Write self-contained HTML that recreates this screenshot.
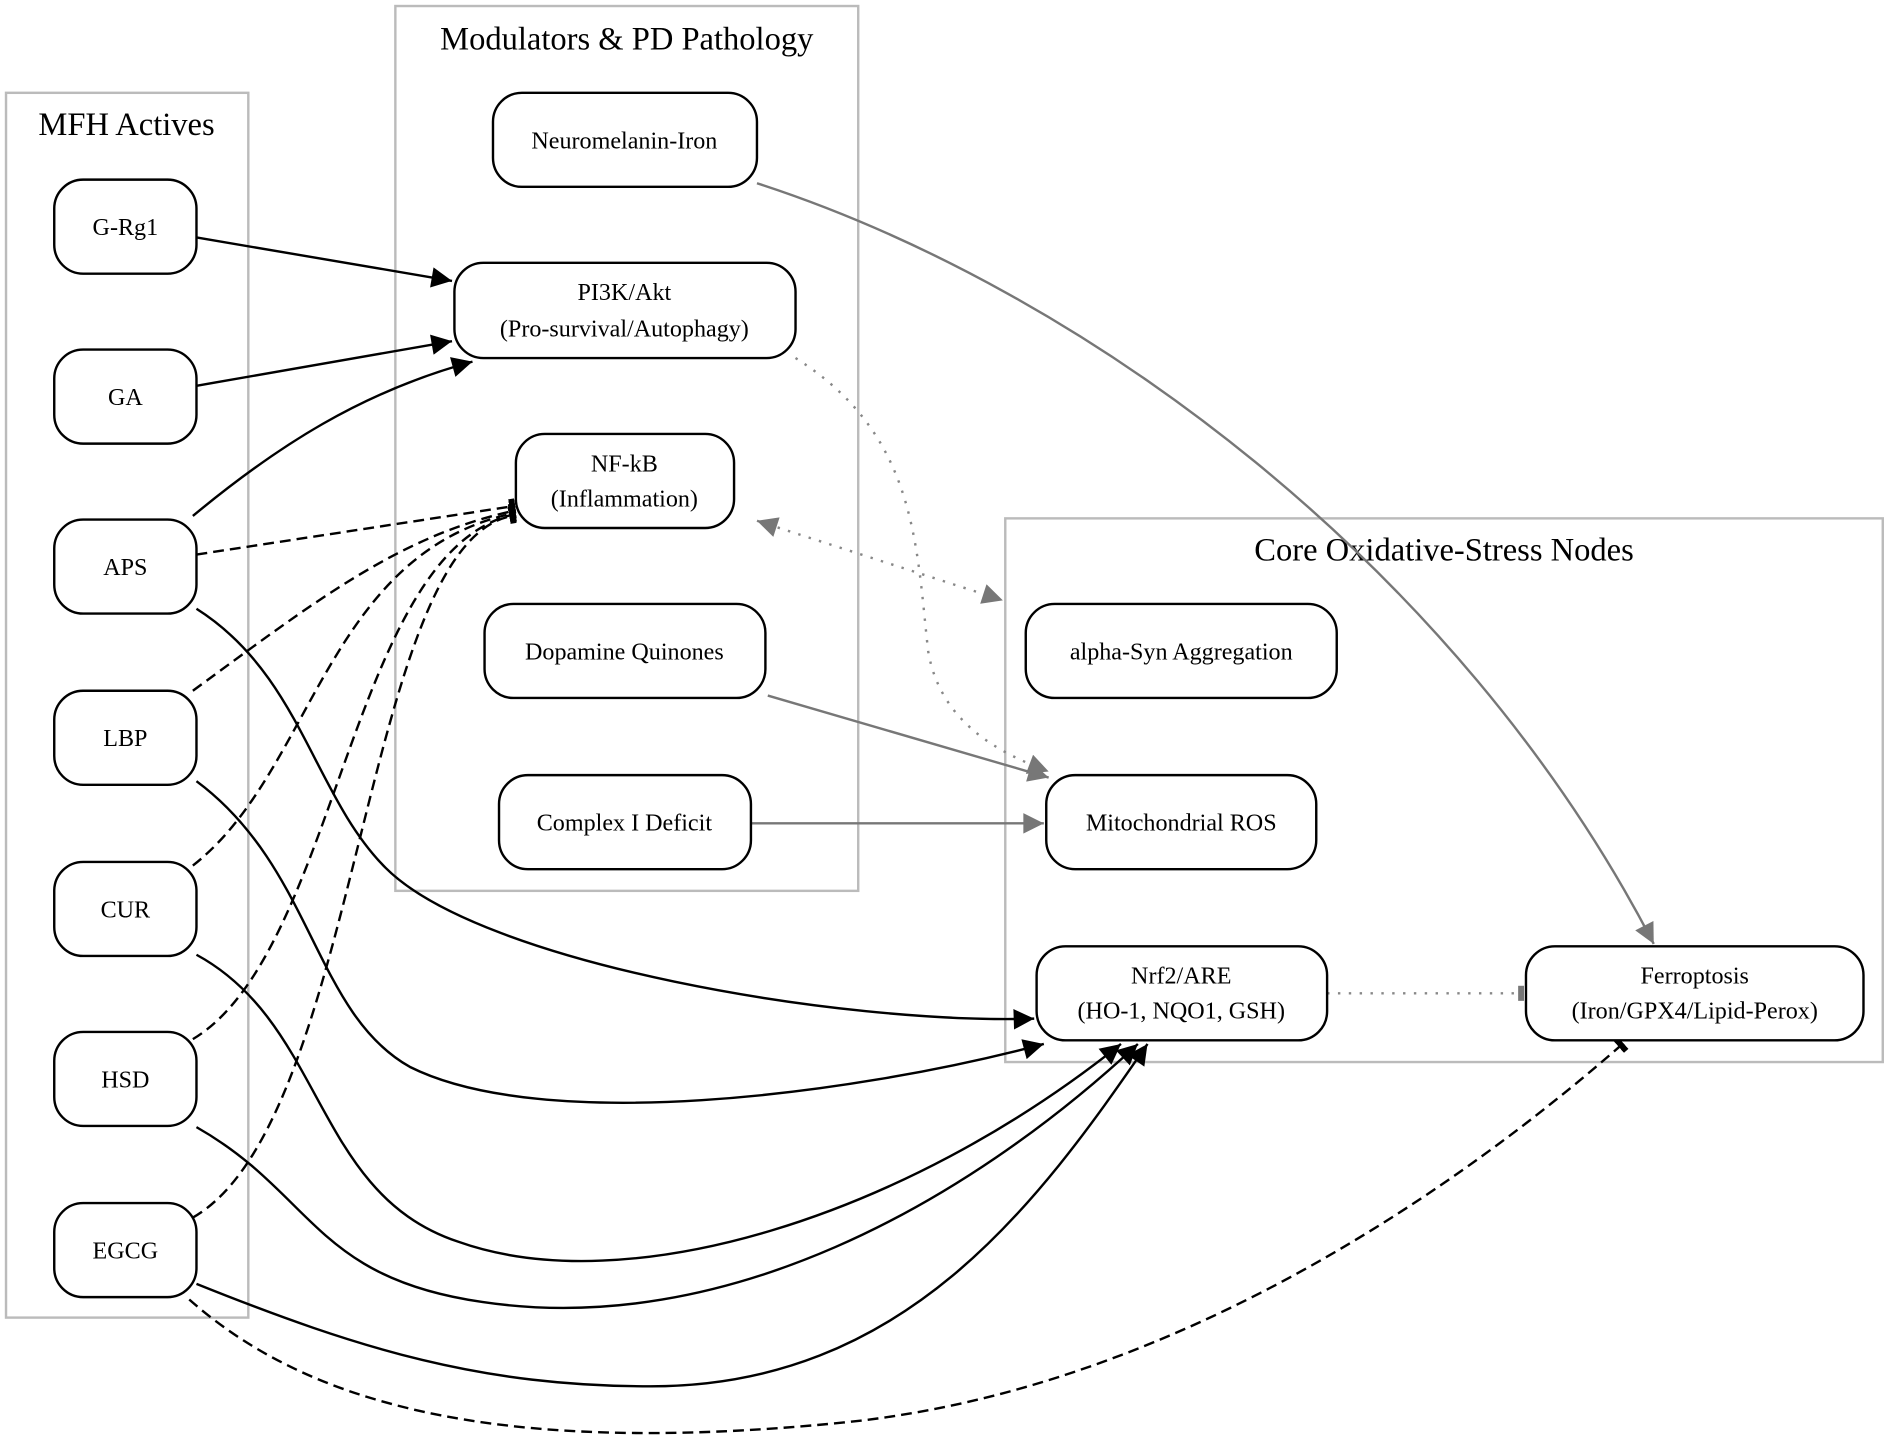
<!DOCTYPE html>
<html><head><meta charset="utf-8"><style>html,body{margin:0;padding:0;background:#fff}svg{display:block}</style></head>
<body>
<svg width="1890" height="1449" viewBox="0 0 1568 1202" preserveAspectRatio="none" xmlns="http://www.w3.org/2000/svg" font-family="Liberation Serif, serif">
<defs>
<marker id="a" viewBox="0 0 10 10" refX="10" refY="5" markerWidth="22" markerHeight="17" markerUnits="userSpaceOnUse" orient="auto"><path d="M0,0L10,5L0,10z" fill="#000"/></marker>
<marker id="g" viewBox="0 0 10 10" refX="10" refY="5" markerWidth="22" markerHeight="17" markerUnits="userSpaceOnUse" orient="auto"><path d="M0,0L10,5L0,10z" fill="#777"/></marker>
<marker id="gs" viewBox="0 0 10 10" refX="0" refY="5" markerWidth="22" markerHeight="17" markerUnits="userSpaceOnUse" orient="auto"><path d="M10,0L0,5L10,10z" fill="#777"/></marker>
<marker id="t" viewBox="0 0 4 10" refX="2" refY="5" markerWidth="5" markerHeight="24" markerUnits="userSpaceOnUse" orient="auto"><rect x="0" y="0" width="4" height="10" fill="#000"/></marker>
<marker id="tg" viewBox="0 0 4 10" refX="2" refY="5" markerWidth="5" markerHeight="22" markerUnits="userSpaceOnUse" orient="auto"><rect x="0" y="0" width="4" height="10" fill="#777"/></marker>
</defs>
<g fill="none" stroke="#bbb" stroke-width="2">
<rect x="5" y="77" width="201" height="1016"/>
<rect x="328" y="5" width="384" height="734"/>
<rect x="834" y="430" width="728" height="451"/>
</g>
<g font-size="27" text-anchor="middle" fill="#000">
<text x="105" y="112">MFH Actives</text>
<text x="520" y="41">Modulators &amp; PD Pathology</text>
<text x="1198" y="465">Core Oxidative-Stress Nodes</text>
</g>
<g fill="none" stroke-width="2">
<path d="M163,197 L375,233" stroke="#000" marker-end="url(#a)"/>
<path d="M163,320 L375,283" stroke="#000" marker-end="url(#a)"/>
<path d="M160,428 C230,370 300,325 392,300" stroke="#000" marker-end="url(#a)"/>
<g stroke="#000" stroke-dasharray="9,5">
<path d="M163,460 L425,420" marker-end="url(#t)"/>
<path d="M160,573 C260,500 330,445 425,424" marker-end="url(#t)"/>
<path d="M160,718 C260,640 270,460 425,426" marker-end="url(#t)"/>
<path d="M160,862 C280,790 290,460 425,427" marker-end="url(#t)"/>
<path d="M160,1010 C300,930 300,450 425,428" marker-end="url(#t)"/>
<path d="M157,1078 C250,1160 400,1210 700,1180 C1000,1150 1250,950 1345,867" marker-end="url(#t)"/>
</g>
<g stroke="#000">
<path d="M163,505 C250,560 260,660 320,720 C400,800 700,850 858,845" marker-end="url(#a)"/>
<path d="M163,648 C260,720 260,840 340,885 C450,940 700,910 866,866" marker-end="url(#a)"/>
<path d="M163,792 C270,850 260,990 380,1030 C520,1080 750,1010 930,866" marker-end="url(#a)"/>
<path d="M163,935 C260,990 260,1060 400,1080 C600,1110 800,1000 944,866" marker-end="url(#a)"/>
<path d="M163,1065 C300,1120 400,1150 540,1150 C750,1150 860,1000 952,866" marker-end="url(#a)"/>
</g>
<path d="M628,152 C900,240 1210,470 1372,783" stroke="#777" marker-end="url(#g)"/>
<path d="M637,577 L870,645" stroke="#777" marker-end="url(#g)"/>
<path d="M623,683 L866,683" stroke="#777" marker-end="url(#g)"/>
<g stroke="#888" stroke-dasharray="2,7">
<path d="M660,297 C760,360 760,450 770,540 C780,600 830,625 870,640" marker-end="url(#g)"/>
<path d="M628,432 L832,498" marker-start="url(#gs)" marker-end="url(#g)"/>
<path d="M1101,824 L1262,824" marker-end="url(#tg)"/>
</g>
</g>
<g fill="#fff" stroke="#000" stroke-width="2">
<rect x="45" y="149" width="118" height="78" rx="24"/>
<rect x="45" y="290" width="118" height="78" rx="24"/>
<rect x="45" y="431" width="118" height="78" rx="24"/>
<rect x="45" y="573" width="118" height="78" rx="24"/>
<rect x="45" y="715" width="118" height="78" rx="24"/>
<rect x="45" y="856" width="118" height="78" rx="24"/>
<rect x="45" y="998" width="118" height="78" rx="24"/>
<rect x="409" y="77" width="219" height="78" rx="24"/>
<rect x="377" y="218" width="283" height="79" rx="24"/>
<rect x="428" y="360" width="181" height="78" rx="24"/>
<rect x="402" y="501" width="233" height="78" rx="24"/>
<rect x="414" y="643" width="209" height="78" rx="24"/>
<rect x="851" y="501" width="258" height="78" rx="24"/>
<rect x="868" y="643" width="224" height="78" rx="24"/>
<rect x="860" y="785" width="241" height="78" rx="24"/>
<rect x="1266" y="785" width="280" height="78" rx="24"/>
</g>
<g font-size="20" text-anchor="middle" fill="#000">
<text x="104" y="195">G-Rg1</text>
<text x="104" y="336">GA</text>
<text x="104" y="477">APS</text>
<text x="104" y="619">LBP</text>
<text x="104" y="761">CUR</text>
<text x="104" y="902">HSD</text>
<text x="104" y="1044">EGCG</text>
<text x="518" y="123">Neuromelanin-Iron</text>
<text x="518" y="249">PI3K/Akt</text>
<text x="518" y="279">(Pro-survival/Autophagy)</text>
<text x="518" y="391">NF-kB</text>
<text x="518" y="420">(Inflammation)</text>
<text x="518" y="547">Dopamine Quinones</text>
<text x="518" y="689">Complex I Deficit</text>
<text x="980" y="547">alpha-Syn Aggregation</text>
<text x="980" y="689">Mitochondrial ROS</text>
<text x="980" y="816">Nrf2/ARE</text>
<text x="980" y="845">(HO-1, NQO1, GSH)</text>
<text x="1406" y="816">Ferroptosis</text>
<text x="1406" y="845">(Iron/GPX4/Lipid-Perox)</text>
</g>
</svg>
</body></html>
